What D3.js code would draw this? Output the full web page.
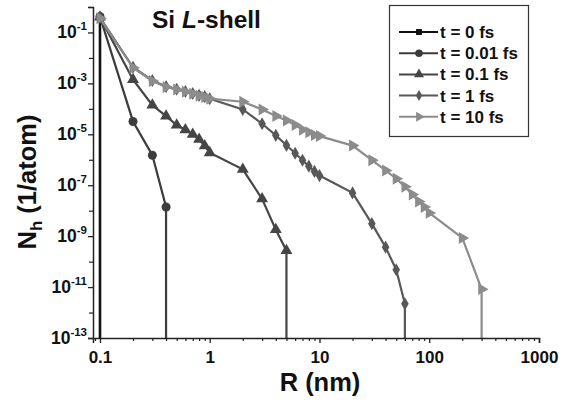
<!DOCTYPE html>
<html>
<head>
<meta charset="utf-8">
<script src="https://cdn.jsdelivr.net/npm/d3@7"></script>
<style>
  body { margin: 0; background: #fff; }
  text { font-family: "Liberation Sans", Arial, sans-serif; font-weight: bold; }
</style>
</head>
<body>
<div id="chart"></div>
<script>
// series labels and colours
var seriesNames = ["t = 0 fs", "t = 0.01 fs", "t = 0.1 fs", "t = 1 fs", "t = 10 fs"]
var seriesColors = ["#111111", "#3c3c3c", "#454545", "#585858", "#8c8c8c"]
var seriesSymbols = ["square", "circle", "triangle", "diamond", "triright"]

// R (nm) and N_h (1/atom); a 0 means the curve drops to the axis
var r_t0 = [0.1, 0.1]
var n_t0 = [0.4, 0]

var r_t001 = [0.1, 0.2, 0.3, 0.4, 0.4]
var n_t001 = [0.42, 3.2e-5, 1.5e-6, 1.4e-8, 0]

var r_t01 = [0.1, 0.2, 0.3, 0.4, 0.5, 0.6, 0.7, 0.8, 0.9, 1, 2, 3, 4, 5, 5]
var n_t01 = [0.4, 1.4e-3, 1.4e-4, 5.2e-5, 2.3e-5, 1.5e-5, 1e-5, 6.3e-6, 3.5e-6, 1.9e-6,
             4.2e-7, 2.9e-8, 1.8e-9, 2.7e-10, 0]

var r_t1 = [0.1, 0.2, 0.3, 0.4, 0.5, 0.6, 0.7, 0.8, 0.9, 1,
            2, 3, 4, 5, 6, 7, 8, 9, 10, 20, 30, 40, 50, 60, 60]
var n_t1 = [0.38, 4.3e-3, 1.3e-3, 7.5e-4, 5.9e-4, 4.8e-4, 4e-4, 3.4e-4, 3e-4, 2.5e-4,
            9.5e-5, 2.6e-5, 9.1e-6, 3.7e-6, 1.8e-6, 9.6e-7, 5.6e-7, 3.5e-7, 2.4e-7,
            5e-8, 3.1e-9, 3.7e-10, 4.8e-11, 2.2e-12, 0]

var r_t10 = [0.1, 0.2, 0.3, 0.4, 0.5, 0.6, 0.7, 0.8, 0.9, 1,
             2, 3, 4, 5, 6, 7, 8, 9, 10,
             20, 30, 40, 50, 60, 70, 80, 90, 100, 200, 300, 300]
var n_t10 = [0.36, 4.1e-3, 1.25e-3, 7.2e-4, 5.7e-4, 4.7e-4, 3.9e-4, 3.3e-4, 2.9e-4, 2.5e-4,
             1.9e-4, 9.5e-5, 5.2e-5, 3.5e-5, 2.3e-5, 1.5e-5, 1.2e-5, 9.3e-6, 8.5e-6,
             3.6e-6, 9.6e-7, 3.8e-7, 1.8e-7, 8.7e-8, 4.3e-8, 2.3e-8, 1.4e-8, 8.2e-9,
             8.5e-10, 8.3e-12, 0]

var xTicks = [0.1, 1, 10, 100, 1000]
var yTicksLabeled = [1e-13, 1e-11, 1e-9, 1e-7, 1e-5, 1e-3, 1e-1]
var yTicksMinor = [1e-12, 1e-10, 1e-8, 1e-6, 1e-4, 1e-2, 1]

var rs = [r_t0, r_t001, r_t01, r_t1, r_t10]
var ns = [n_t0, n_t001, n_t01, n_t1, n_t10]

var W = 569, H = 406
var svg = d3.select("#chart").append("svg")
    .attr("width", W)
    .attr("height", H)

var x = d3.scaleLog()
    .domain([Math.pow(10, -1.0636), 1000])
    .range([93, 539])

var y = d3.scaleLog()
    .domain([1e-13, 1])
    .range([338, 7])

var yBottom = 1e-13

// minor x ticks: 2..9 in each decade
var xMinor = []
;[0.01, 0.1, 1, 10, 100].forEach(function(d) {
  for (var k = 2; k <= 9; k++) {
    var v = d * k
    if (v >= x.domain()[0] && v <= 1000) xMinor.push(v)
  }
})

// curves
var line = d3.line()
    .x(function(d) { return x(d[0]) })
    .y(function(d) { return y(d[1] > 0 ? d[1] : yBottom) })

var symbolFor = {
  square: d3.symbolSquare,
  circle: d3.symbolCircle,
  triangle: d3.symbolTriangle,
  diamond: d3.symbolDiamond,
  triright: d3.symbolTriangle
}
var symbolSize = { square: 50, circle: 64, triangle: 62, diamond: 50, triright: 62 }

function marker(sel, kind, scale) {
  sel.attr("d", d3.symbol().type(symbolFor[kind]).size(symbolSize[kind] * scale)())
}

rs.forEach(function(r, i) {
  var pts = r.map(function(v, j) { return [v, ns[i][j]] })
  var g = svg.append("g").attr("class", "series")
  g.append("path")
    .datum(pts)
    .attr("fill", "none")
    .attr("stroke", seriesColors[i])
    .attr("stroke-width", i === 0 ? 2.6 : 2.2)
    .attr("d", line)

  g.selectAll("path.mk")
    .data(pts.filter(function(d) { return d[1] > 0 }))
    .enter().append("path")
    .attr("class", "mk")
    .attr("fill", seriesColors[i])
    .attr("transform", function(d) {
      var t = "translate(" + x(d[0]) + "," + y(d[1]) + ")"
      if (seriesSymbols[i] === "triright") t += " rotate(90)"
      return t
    })
    .call(marker, seriesSymbols[i], 1)
})

// axes
var axisColor = "#222"
var xAxis = svg.append("g")
    .attr("transform", "translate(0,338)")
    .call(d3.axisBottom(x).tickValues(xTicks).tickSize(5).tickFormat(d3.format("")))
xAxis.select(".domain").attr("stroke", axisColor).attr("stroke-width", 1.5)
xAxis.selectAll(".tick line").attr("stroke", axisColor).attr("stroke-width", 1.3)
xAxis.selectAll(".tick text")
    .attr("font-size", 17)
    .attr("fill", "#111")
    .attr("dy", 0)
    .attr("y", 25)
    .style("font-family", "Liberation Sans, Arial, sans-serif")
    .style("font-weight", "bold")

var xMin = svg.append("g")
    .attr("transform", "translate(0,338)")
    .call(d3.axisBottom(x).tickValues(xMinor).tickSize(3).tickFormat(""))
xMin.select(".domain").remove()
xMin.selectAll(".tick line").attr("stroke", axisColor).attr("stroke-width", 1.2)

var yAxis = svg.append("g")
    .attr("transform", "translate(93,0)")
    .call(d3.axisLeft(y).tickValues(yTicksLabeled).tickSize(5).tickFormat(""))
yAxis.select(".domain").attr("stroke", axisColor).attr("stroke-width", 1.5)
yAxis.selectAll(".tick line").attr("stroke", axisColor).attr("stroke-width", 1.3)

var yMin = svg.append("g")
    .attr("transform", "translate(93,0)")
    .call(d3.axisLeft(y).tickValues(yTicksMinor).tickSize(4).tickFormat(""))
yMin.select(".domain").remove()
yMin.selectAll(".tick line").attr("stroke", axisColor).attr("stroke-width", 1.2)

// y tick labels 10^n
yTicksLabeled.forEach(function(v) {
  var e = Math.round(Math.log10(v))
  var t = svg.append("text")
      .attr("x", 87)
      .attr("y", y(v) + 6)
      .attr("text-anchor", "end")
      .attr("fill", "#111")
  t.append("tspan").attr("font-size", 17.5).text("10")
  t.append("tspan").attr("font-size", 11.5).attr("dy", -8).text(e)
})

// axis titles
svg.append("text")
    .attr("x", 320)
    .attr("y", 391)
    .attr("text-anchor", "middle")
    .attr("font-size", 25.5)
    .attr("fill", "#111")
    .text("R (nm)")

var yt = svg.append("text")
    .attr("transform", "translate(36,182) rotate(-90)")
    .attr("text-anchor", "middle")
    .attr("font-size", 25.5)
    .attr("fill", "#111")
yt.append("tspan").text("N")
yt.append("tspan").attr("font-size", 17).attr("dy", 6).text("h")
yt.append("tspan").attr("dy", -6).text(" (1/atom)")

// panel title
var title = svg.append("text")
    .attr("x", 152)
    .attr("y", 28)
    .attr("font-size", 24.5)
    .attr("fill", "#111")
title.append("tspan").text("Si ")
title.append("tspan").attr("font-style", "italic").text("L")
title.append("tspan").text("-shell")

// legend
var lg = svg.append("g")
lg.append("rect")
    .attr("x", 389.5).attr("y", 5.5)
    .attr("width", 139).attr("height", 131)
    .attr("fill", "#fff")
    .attr("stroke", "#333")
    .attr("stroke-width", 1.2)

seriesNames.forEach(function(name, i) {
  var cy = 32 + i * 21.2
  lg.append("line")
    .attr("x1", 399).attr("x2", 438)
    .attr("y1", cy).attr("y2", cy)
    .attr("stroke", seriesColors[i])
    .attr("stroke-width", 2)
  lg.append("path")
    .attr("fill", seriesColors[i])
    .attr("transform", "translate(419," + cy + ")" + (seriesSymbols[i] === "triright" ? " rotate(90)" : ""))
    .call(marker, seriesSymbols[i], 0.7)
  lg.append("text")
    .attr("x", 440)
    .attr("y", cy + 6)
    .attr("font-size", 17)
    .attr("fill", "#111")
    .text(name)
})
</script>
</body>
</html>
